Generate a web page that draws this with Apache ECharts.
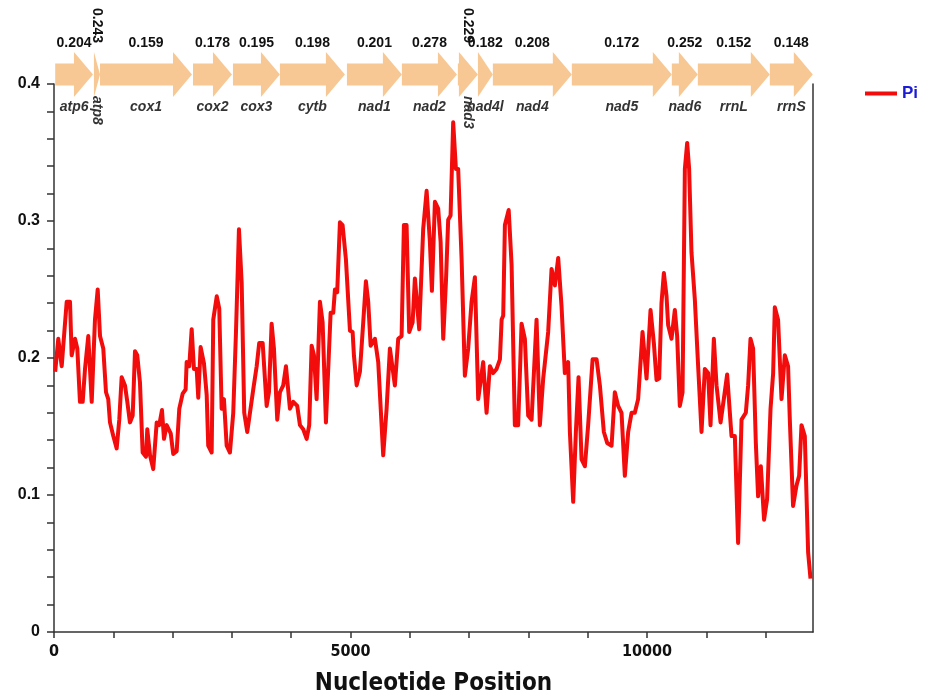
<!DOCTYPE html>
<html>
<head>
<meta charset="utf-8">
<title>Pi</title>
<script src="https://cdn.jsdelivr.net/npm/echarts@6/dist/echarts.min.js"></script>
<style>html,body{margin:0;padding:0;background:#fff}</style>
</head>
<body>
<div id="main" style="width:925px;height:696px"></div>
<script>
// sliding window positions (bp) and nucleotide diversity
var positions = [20, 72, 130, 169, 214, 270, 298, 354, 393, 438, 484, 523, 578, 636, 691, 737, 776, 831, 877, 915,
  944, 1000, 1057, 1101, 1141, 1197, 1236, 1281, 1327, 1366, 1404, 1450, 1495, 1551, 1573, 1619, 1674, 1732, 1775, 1821,
  1855, 1900, 1968, 2011, 2069, 2113, 2170, 2220, 2237, 2281, 2322, 2360, 2406, 2433, 2473, 2529, 2575, 2601, 2659, 2686,
  2745, 2787, 2827, 2866, 2912, 2967, 3023, 3069, 3119, 3165, 3208, 3259, 3305, 3360, 3418, 3461, 3519, 3586, 3625, 3670,
  3709, 3765, 3810, 3866, 3912, 3979, 4035, 4102, 4148, 4203, 4261, 4304, 4345, 4384, 4429, 4485, 4530, 4586, 4665, 4709,
  4738, 4776, 4822, 4867, 4923, 4991, 5036, 5058, 5104, 5159, 5215, 5260, 5299, 5340, 5412, 5468, 5552, 5609, 5665, 5749,
  5805, 5862, 5901, 5946, 5990, 6048, 6086, 6159, 6226, 6284, 6339, 6373, 6424, 6479, 6520, 6564, 6609, 6648, 6688, 6732,
  6778, 6816, 6874, 6929, 6985, 7042, 7098, 7154, 7238, 7295, 7351, 7407, 7464, 7520, 7549, 7576, 7604, 7668, 7717, 7772,
  7828, 7885, 7941, 7997, 8054, 8138, 8194, 8250, 8334, 8391, 8447, 8503, 8559, 8615, 8671, 8700, 8756, 8801, 8846, 8897,
  8953, 9008, 9083, 9150, 9206, 9273, 9329, 9403, 9458, 9514, 9571, 9627, 9683, 9740, 9795, 9851, 9925, 9993, 10060, 10116,
  10161, 10206, 10245, 10285, 10330, 10357, 10414, 10470, 10509, 10554, 10600, 10639, 10678, 10711, 10751, 10807, 10863, 10920, 10976, 11031,
  11072, 11128, 11173, 11241, 11296, 11352, 11426, 11482, 11537, 11595, 11667, 11706, 11746, 11790, 11836, 11874, 11920, 11975, 12026, 12084,
  12128, 12156, 12211, 12269, 12325, 12380, 12409, 12464, 12522, 12566, 12606, 12662, 12718, 12758];
var piValues = [0.190, 0.214, 0.194, 0.216, 0.241, 0.241, 0.202, 0.214, 0.207, 0.168, 0.168, 0.192, 0.216, 0.168, 0.228, 0.250, 0.216, 0.207, 0.175, 0.170,
  0.153, 0.143, 0.134, 0.155, 0.186, 0.180, 0.168, 0.153, 0.158, 0.205, 0.202, 0.182, 0.131, 0.128, 0.148, 0.129, 0.119, 0.153, 0.151, 0.162,
  0.141, 0.151, 0.145, 0.130, 0.132, 0.163, 0.174, 0.177, 0.197, 0.194, 0.221, 0.192, 0.192, 0.171, 0.208, 0.196, 0.173, 0.136, 0.131, 0.228,
  0.245, 0.236, 0.163, 0.170, 0.136, 0.131, 0.160, 0.219, 0.294, 0.255, 0.160, 0.146, 0.160, 0.177, 0.194, 0.211, 0.211, 0.165, 0.175, 0.225,
  0.207, 0.155, 0.175, 0.180, 0.194, 0.163, 0.168, 0.165, 0.151, 0.148, 0.141, 0.151, 0.209, 0.202, 0.170, 0.241, 0.226, 0.153, 0.233, 0.233,
  0.250, 0.248, 0.299, 0.297, 0.272, 0.220, 0.219, 0.202, 0.180, 0.190, 0.226, 0.256, 0.241, 0.209, 0.214, 0.197, 0.129, 0.163, 0.207, 0.180,
  0.214, 0.216, 0.297, 0.297, 0.219, 0.226, 0.258, 0.221, 0.294, 0.322, 0.285, 0.249, 0.314, 0.309, 0.285, 0.214, 0.255, 0.301, 0.304, 0.372,
  0.338, 0.338, 0.272, 0.187, 0.207, 0.241, 0.259, 0.170, 0.197, 0.160, 0.194, 0.189, 0.192, 0.199, 0.228, 0.231, 0.297, 0.308, 0.268, 0.151,
  0.151, 0.225, 0.214, 0.158, 0.155, 0.228, 0.151, 0.185, 0.219, 0.265, 0.253, 0.273, 0.238, 0.189, 0.197, 0.146, 0.095, 0.146, 0.186, 0.126,
  0.121, 0.151, 0.199, 0.199, 0.180, 0.146, 0.138, 0.136, 0.175, 0.165, 0.160, 0.114, 0.146, 0.160, 0.160, 0.170, 0.219, 0.185, 0.235, 0.211,
  0.184, 0.185, 0.240, 0.262, 0.245, 0.224, 0.214, 0.235, 0.216, 0.165, 0.175, 0.338, 0.357, 0.338, 0.277, 0.243, 0.194, 0.146, 0.192, 0.189,
  0.151, 0.214, 0.180, 0.153, 0.170, 0.188, 0.143, 0.143, 0.065, 0.155, 0.160, 0.180, 0.214, 0.207, 0.138, 0.099, 0.121, 0.082, 0.097, 0.163,
  0.189, 0.237, 0.228, 0.170, 0.202, 0.194, 0.155, 0.092, 0.107, 0.114, 0.151, 0.143, 0.058, 0.039];

// genes along the mitogenome and their Pi
var geneNames = ['atp6', 'atp8', 'cox1', 'cox2', 'cox3', 'cytb', 'nad1', 'nad2', 'nad3', 'nad4l', 'nad4', 'nad5', 'nad6', 'rrnL', 'rrnS'];
var geneStart = [20, 674, 776, 2344, 3018, 3810, 4940, 5867, 6811, 7149, 7401, 8733, 10419, 10858, 12072];
var geneEnd = [657, 776, 2327, 3001, 3810, 4906, 5867, 6795, 7149, 7401, 8733, 10419, 10858, 12072, 12797];
var genePi = [0.204, 0.243, 0.159, 0.178, 0.195, 0.198, 0.201, 0.278, 0.229, 0.182, 0.208, 0.172, 0.252, 0.152, 0.148];

var xTicks = [0, 1000, 2000, 3000, 4000, 5000, 6000, 7000, 8000, 9000, 10000, 11000, 12000];
var xLabels = [0, 5000, 10000];

var verticalGenes = ['atp8', 'nad3']; // labels too wide for these, drawn sideways

var lineData = positions.map(function (p, i) { return [p, piValues[i]]; });
var geneData = geneNames.map(function (n, i) { return [geneStart[i], geneEnd[i], genePi[i]]; });

function renderGene(params, api) {
  var i = params.dataIndex;
  var a = api.coord([api.value(0), 0.5]);
  var b = api.coord([api.value(1), 0.5]);
  var h = api.size([0, 1])[1];
  var cy = a[1];
  var head = Math.min(19, b[0] - a[0]);
  var neck = b[0] - head;
  var bh = h * 0.245, hh = h / 2;
  var cx = (a[0] + b[0]) / 2;
  var vert = verticalGenes.indexOf(geneNames[i]) >= 0;
  var valFont = 'bold 14px "Liberation Sans", Arial, sans-serif';
  var nameFont = 'italic bold 14px "Liberation Sans", Arial, sans-serif';
  var valueText, nameText;
  if (vert) {
    valueText = { type: 'text', x: cx, y: cy - hh - 9, rotation: -Math.PI / 2,
      style: { text: genePi[i].toFixed(3), font: valFont, fill: '#111', align: 'right', verticalAlign: 'middle' } };
    nameText = { type: 'text', x: cx, y: cy + hh - 1, rotation: -Math.PI / 2,
      style: { text: geneNames[i], font: nameFont, fill: '#333', align: 'left', verticalAlign: 'middle' } };
  } else {
    valueText = { type: 'text', x: cx, y: cy - 31,
      style: { text: genePi[i].toFixed(3), font: valFont, fill: '#111', align: 'center', verticalAlign: 'middle' } };
    nameText = { type: 'text', x: cx, y: cy + 33,
      style: { text: geneNames[i], font: nameFont, fill: '#333', align: 'center', verticalAlign: 'middle' } };
  }
  return {
    type: 'group',
    children: [
      { type: 'polygon',
        shape: { points: [[a[0], cy - bh], [neck, cy - bh], [neck, cy - hh], [b[0], cy], [neck, cy + hh], [neck, cy + bh], [a[0], cy + bh]] },
        style: { fill: '#f8c894' } },
      valueText,
      nameText
    ]
  };
}

var chart = echarts.init(document.getElementById('main'));
chart.setOption({
  animation: false,
  backgroundColor: '#fff',
  legend: {
    data: ['Pi'],
    left: 860, top: 80,
    icon: 'rect', itemWidth: 32, itemHeight: 4, itemGap: 6,
    textStyle: { color: '#1c1cd6', fontWeight: 'bold', fontSize: 17, fontFamily: 'Liberation Sans, Arial, sans-serif' }
  },
  grid: [
    { left: 54, right: 112, top: 84, bottom: 64, outerBoundsMode: 'none' },
    { left: 54, right: 112, top: 52, height: 45, outerBoundsMode: 'none' }
  ],
  xAxis: [
    {
      type: 'value', gridIndex: 0, min: 0, max: 12800,
      splitLine: { show: false },
      axisLine: { lineStyle: { color: '#333', width: 1.5 } },
      axisTick: { customValues: xTicks, length: 6, lineStyle: { color: '#333', width: 1.5 } },
      axisLabel: { customValues: xLabels, margin: 12, color: '#111', fontWeight: 'bold', fontSize: 16,
        fontFamily: '"Liberation Sans Narrow", "DejaVu Sans Condensed", "Liberation Sans", sans-serif',
        formatter: function (v) { return String(v); } },
      name: 'Nucleotide Position', nameLocation: 'middle', nameGap: 40,
      nameTextStyle: { color: '#111', fontWeight: 'bold', fontSize: 24,
        fontFamily: '"Liberation Sans Narrow", "DejaVu Sans Condensed", "Liberation Sans", sans-serif' }
    },
    { type: 'value', gridIndex: 1, min: 0, max: 12800, show: false }
  ],
  yAxis: [
    {
      type: 'value', gridIndex: 0, min: 0, max: 0.4, interval: 0.1,
      splitLine: { show: false },
      axisLine: { show: true, lineStyle: { color: '#333', width: 1.5 } },
      axisTick: { show: true, length: 7, lineStyle: { color: '#333', width: 1.5 } },
      minorTick: { show: true, splitNumber: 5, length: 7, lineStyle: { color: '#333', width: 1.5 } },
      axisLabel: { margin: 14, color: '#111', fontWeight: 'bold', fontSize: 16,
        fontFamily: '"Liberation Sans", Arial, sans-serif',
        formatter: function (v) { return v === 0 ? '0' : v.toFixed(1); } }
    },
    {
      type: 'value', gridIndex: 0, position: 'right', min: 0, max: 0.4,
      splitLine: { show: false },
      axisLine: { show: true, lineStyle: { color: '#333', width: 1.5 } },
      axisTick: { show: false }, axisLabel: { show: false }
    },
    { type: 'value', gridIndex: 1, min: 0, max: 1, show: false }
  ],
  series: [
    {
      name: 'Pi', type: 'line', xAxisIndex: 0, yAxisIndex: 0,
      data: lineData, showSymbol: false, symbol: 'none',
      color: '#f20c0c',
      lineStyle: { color: '#f20c0c', width: 4, join: 'round' }
    },
    {
      name: 'genes', type: 'custom', xAxisIndex: 1, yAxisIndex: 2,
      data: geneData, renderItem: renderGene, z: 5, silent: true
    }
  ]
});
</script>
</body>
</html>
